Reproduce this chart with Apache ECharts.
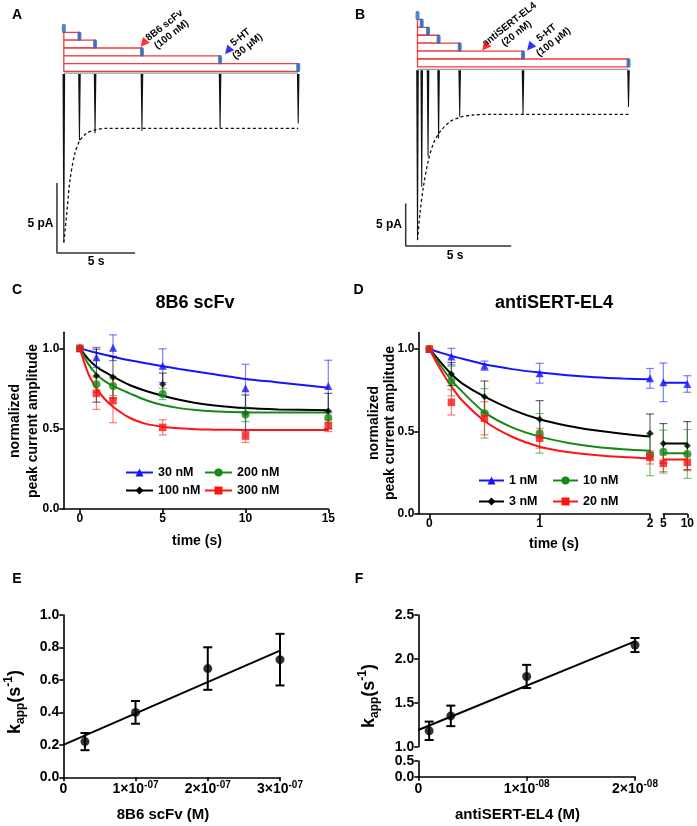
<!DOCTYPE html>
<html>
<head>
<meta charset="utf-8">
<title>SERT antibody block kinetics</title>
<script src="https://cdn.jsdelivr.net/npm/echarts@6/dist/echarts.min.js"></script>
<style>
  html, body { margin: 0; padding: 0; background: #fff; }
  #main { width: 697px; height: 826px; }
</style>
</head>
<body>
<div id="main"></div>
<script>
var FONT = '"Liberation Sans", Arial, sans-serif';

// ---- A: 8B6 scFv (100 nM) preincubation, 5-HT 30 uM ----
var timesA = [0, 1, 2, 5, 10, 15];                 // s
var peaksA = [12.1, 4.8, 4.3, 4.15, 3.95, 3.6];    // pA, inward
var fitTimeA = [0, 0.19, 0.4, 0.72, 1.04, 1.47, 2.0, 2.74, 15];
var fitCurA = [12.1, 10.0, 7.6, 5.7, 4.8, 4.3, 4.07, 3.95, 3.95];
var arrowsA = [[5.1, 1.9], [10.5, 2.85]];           // antibody, 5-HT (s, row)

// ---- B: antiSERT-EL4 (20 nM), 5-HT 100 uM ----
var timesB = [0, 0.2, 0.5, 1, 2, 5, 10];
var peaksB = [20.0, 13.75, 10.2, 8.1, 5.55, 5.35, 4.4];
var fitTimeB = [0, 0.12, 0.28, 0.52, 0.76, 1.07, 1.54, 2.01, 2.65, 3.6, 10];
var fitCurB = [20.0, 16.8, 13.75, 10.6, 8.66, 7.3, 6.14, 5.62, 5.35, 5.27, 5.27];
var arrowsB = [[3.2, 4.0], [5.33, 4.0]];

// ---- C: 8B6 scFv, normalized peak current ----
var timeC = [0, 1, 2, 5, 10, 15];
var namesC = ['30 nM', '100 nM', '200 nM', '300 nM'];
var meanC30 = [1.0, 0.944, 1.004, 0.892, 0.751, 0.766];
var semC30 = [0, 0.062, 0.08, 0.105, 0.15, 0.16];
var meanC100 = [1.0, 0.83, 0.82, 0.776, 0.595, 0.61];
var semC100 = [0, 0.165, 0.13, 0.07, 0.115, 0.11];
var meanC200 = [1.0, 0.776, 0.766, 0.716, 0.589, 0.568];
var semC200 = [0, 0.05, 0.06, 0.035, 0.045, 0.03];
var meanC300 = [1.0, 0.72, 0.674, 0.508, 0.454, 0.519];
var semC300 = [0, 0.1, 0.137, 0.047, 0.04, 0.037];
var fitTimeC = [0, 0.5, 1, 1.5, 2, 3, 4, 5, 6, 7, 8, 10, 12, 15];
var fitC30 = [1.0, 0.986, 0.973, 0.960, 0.948, 0.926, 0.907, 0.889, 0.872, 0.856, 0.841, 0.81, 0.788, 0.755];
var fitC100 = [1.0, 0.935, 0.886, 0.853, 0.824, 0.772, 0.735, 0.705, 0.68, 0.66, 0.646, 0.628, 0.62, 0.614];
var fitC200 = [1.0, 0.905, 0.838, 0.796, 0.766, 0.72, 0.677, 0.647, 0.628, 0.616, 0.609, 0.602, 0.6, 0.6];
var fitC300 = [1.0, 0.845, 0.751, 0.685, 0.637, 0.568, 0.53, 0.512, 0.502, 0.496, 0.494, 0.492, 0.492, 0.492];
var ticksCx = [0, 5, 10, 15];
var ticksNorm = [0, 0.5, 1.0];

// ---- D: antiSERT-EL4, broken time axis ----
var timeD = [0, 0.2, 0.5, 1, 2];
var timeD2 = [5, 10];
var namesD = ['1 nM', '3 nM', '10 nM', '20 nM'];
var meanD1 = [1.0, 0.954, 0.899, 0.853, 0.822], meanD1b = [0.798, 0.788];
var semD1 = [0, 0.05, 0.028, 0.06, 0.06], semD1b = [0.117, 0.05];
var meanD3 = [1.0, 0.848, 0.711, 0.574, 0.489], meanD3b = [0.428, 0.414];
var semD3 = [0, 0.07, 0.095, 0.113, 0.117], semD3b = [0.12, 0.146];
var meanD10 = [1.0, 0.806, 0.61, 0.489, 0.358], meanD10b = [0.378, 0.364];
var semD10 = [0, 0.09, 0.15, 0.12, 0.126], semD10b = [0.13, 0.148];
var meanD20 = [1.0, 0.677, 0.58, 0.459, 0.343], meanD20b = [0.307, 0.313];
var semD20 = [0, 0.077, 0.1, 0.06, 0.04], semD20b = [0.05, 0.05];
var fitTimeD = [0, 0.1, 0.2, 0.3, 0.5, 0.75, 1, 1.25, 1.5, 1.75, 2];
var fitD1 = [1.0, 0.978, 0.958, 0.941, 0.907, 0.878, 0.857, 0.841, 0.829, 0.821, 0.816], plateauD1 = 0.796;
var fitD3 = [1.0, 0.922, 0.848, 0.79, 0.711, 0.633, 0.574, 0.535, 0.507, 0.486, 0.469], plateauD3 = 0.428;
var fitD10 = [1.0, 0.9, 0.812, 0.74, 0.616, 0.525, 0.469, 0.432, 0.408, 0.393, 0.384], plateauD10 = 0.368;
var fitD20 = [1.0, 0.877, 0.772, 0.686, 0.564, 0.468, 0.408, 0.376, 0.358, 0.345, 0.337], plateauD20 = 0.331;
var ticksDx = [0, 1, 2];

// ---- E: kapp vs 8B6 scFv ----
var concE = [3e-8, 1e-7, 2e-7, 3e-7];
var kappE = [0.22, 0.40, 0.67, 0.725];
var semE = [0.053, 0.07, 0.131, 0.159];
var fitXE = [0, 3e-7], fitYE = [0.2, 0.78];
var ticksEx = [0, 1e-7, 2e-7, 3e-7], expE = '-07';
var ticksEy = [0, 0.2, 0.4, 0.6, 0.8, 1.0];

// ---- F: kapp vs antiSERT-EL4 ----
var concF = [1e-9, 3e-9, 1e-8, 2e-8];
var kappF = [1.181, 1.351, 1.80, 2.158];
var semF = [0.105, 0.117, 0.132, 0.08];
var fitXF = [0, 2e-8], fitYF = [1.19, 2.2];
var ticksFx = [0, 1e-8, 2e-8], expF = '-08';
var ticksFy = [1.0, 1.5, 2.0, 2.5], ticksFyLow = [0, 0.5];

var BLUE = '#1414ff', GREEN = '#168a16', RED = '#ff1414', BLACK = '#000';

function zip(xs, ys) { return xs.map(function (x, i) { return [x, ys[i]]; }); }

// grids: 0 A-protocol, 1 A-trace, 2 B-protocol, 3 B-trace, 4 C, 5 D, 6 D(5-10 s), 7 E, 8 F-upper, 9 F-lower
var grids = [
  {left: 48.2, top: 24.6, width: 250, height: 46.8},
  {left: 48.2, top: 73, width: 250, height: 196},
  {left: 396.4, top: 11.5, width: 232.1, height: 55.4},
  {left: 396.4, top: 69.3, width: 232.1, height: 187.9},
  {left: 63.3, top: 332.3, width: 265, height: 176.7},
  {left: 418.3, top: 332.5, width: 231.7, height: 181.5},
  {left: 663.3, top: 332.5, width: 25, height: 181.5},
  {left: 63.3, top: 615, width: 216.7, height: 162.3},
  {left: 418.3, top: 615, width: 216.7, height: 131.7},
  {left: 418.3, top: 761, width: 216.7, height: 15.7}
];

function hidden(g, min, max, inv) {
  return {gridIndex: g, type: 'value', min: min, max: max, inverse: !!inv, show: false};
}
function axis(g, min, max, ticks, fmt, size, rich) {
  return {
    gridIndex: g, type: 'value', min: min, max: max,
    axisLine: {show: true, onZero: false, lineStyle: {color: '#000', width: 1.6}},
    axisTick: {show: true, length: 4, customValues: ticks, lineStyle: {color: '#000', width: 1.6}},
    axisLabel: {show: true, customValues: ticks, formatter: fmt, margin: 4, color: '#000',
      fontFamily: FONT, fontWeight: 'bold', fontSize: size, rich: rich},
    splitLine: {show: false}
  };
}
function fix1(v) { return v.toFixed(1); }
function sciFmt(step, exp) {
  return function (v) {
    if (v === 0) return '{b|0}';
    return '{b|' + Math.round(v / step) + '×10}{s|' + exp + '}';
  };
}
var sciRich = {
  b: {fontFamily: FONT, fontWeight: 'bold', fontSize: 14, color: '#000', lineHeight: 18},
  s: {fontFamily: FONT, fontWeight: 'bold', fontSize: 10, color: '#000', verticalAlign: 'top', lineHeight: 18}
};

var xAxes = [
  hidden(0, -1, 15), hidden(1, -1, 15), hidden(2, -1, 10), hidden(3, -1, 10),
  axis(4, -1, 15, ticksCx, function (v) { return String(v); }, 12),
  axis(5, -0.1, 2, ticksDx, function (v) { return String(v); }, 12),
  axis(6, 5, 10, timeD2, function (v) { return String(v); }, 12),
  axis(7, 0, 3e-7, ticksEx, sciFmt(1e-7, expE), 14, sciRich),
  hidden(8, 0, 2e-8),
  axis(9, 0, 2e-8, ticksFx, sciFmt(1e-8, expF), 14, sciRich)
];
xAxes[7].axisLabel.margin = 3;
xAxes[9].axisLabel.margin = 3;
var yAxes = [
  hidden(0, -0.5, 5.5, true), hidden(1, 0, 14, true), hidden(2, -0.5, 6.5, true), hidden(3, 0, 22, true),
  axis(4, 0, 1.1, ticksNorm, fix1, 12),
  axis(5, 0, 1.1, ticksNorm, fix1, 12),
  hidden(6, 0, 1.1),
  axis(7, 0, 1.0, ticksEy, fix1, 14),
  axis(8, 1.0, 2.5, ticksFy, fix1, 14),
  axis(9, 0, 0.5, ticksFyLow, fix1, 14)
];

var series = [];

function protocol(g, times, arrows) {
  series.push({
    type: 'custom', xAxisIndex: g, yAxisIndex: g, silent: true, z: 2,
    data: times.slice(1).map(function (t, i) { return [times[0], t, i + 1]; }),
    renderItem: function (p, api) {
      var a = api.coord([api.value(0), api.value(2) - 0.5]);
      var b = api.coord([api.value(1), api.value(2) + 0.5]);
      return {type: 'rect', shape: {x: a[0], y: a[1], width: b[0] - a[0], height: b[1] - a[1]},
        style: {fill: '#fff', stroke: '#f23b3b', lineWidth: 1.3}};
    }
  });
  series.push({type: 'scatter', xAxisIndex: g, yAxisIndex: g, silent: true, z: 3,
    symbol: 'roundRect', symbolSize: [4, 9], itemStyle: {color: '#1b6dc1'},
    data: times.map(function (t, i) { return [t, i]; })});
  series.push({type: 'scatter', xAxisIndex: g, yAxisIndex: g, silent: true, z: 3,
    symbol: 'triangle', symbolSize: 9, symbolRotate: 140,
    data: [{value: arrows[0], itemStyle: {color: '#f00'}}, {value: arrows[1], itemStyle: {color: '#0000f0'}}]});
}

function traces(g, times, peaks, fitT, fitI, bar) {
  series.push({type: 'line', xAxisIndex: g, yAxisIndex: g, silent: true, z: 1, symbol: 'none',
    lineStyle: {color: '#999', width: 1.5}, data: [[times[0], 0], [times[times.length - 1], 0]]});
  series.push({
    type: 'custom', xAxisIndex: g, yAxisIndex: g, silent: true, z: 2,
    data: zip(times, peaks),
    renderItem: function (p, api) {
      var b = api.coord([api.value(0), 0]);
      var t = api.coord([api.value(0), api.value(1)]);
      return {type: 'polygon', shape: {points: [[b[0] - 1.3, b[1] + 1], [b[0] + 1.3, b[1] + 1], [t[0] + 0.5, t[1]], [t[0] - 0.5, t[1]]]},
        style: {fill: '#111'}};
    }
  });
  series.push({type: 'line', xAxisIndex: g, yAxisIndex: g, silent: true, z: 3, symbol: 'none', smooth: 0.3,
    lineStyle: {color: '#111', width: 1.3, type: [3, 2.5]}, data: zip(fitT, fitI)});
  // 5 s / 5 pA scale bar
  series.push({type: 'line', xAxisIndex: g, yAxisIndex: g, silent: true, z: 2, symbol: 'none',
    lineStyle: {color: '#333', width: 1.5},
    data: [[bar[0], bar[1]], [bar[0], bar[1] + 5], [bar[0] + 5, bar[1] + 5]]});
}

function errBars(g, xs, ys, es, color, cap, w) {
  series.push({
    type: 'custom', xAxisIndex: g, yAxisIndex: g, silent: true, z: 3,
    data: xs.map(function (x, i) { return [x, ys[i], es[i]]; }),
    renderItem: function (p, api) {
      var x = api.value(0), y = api.value(1), e = api.value(2);
      if (!e) return null;
      var t = api.coord([x, y + e]), b = api.coord([x, y - e]);
      var st = {stroke: color, lineWidth: w};
      return {type: 'group', children: [
        {type: 'line', shape: {x1: t[0], y1: t[1], x2: b[0], y2: b[1]}, style: st},
        {type: 'line', shape: {x1: t[0] - cap, y1: t[1], x2: t[0] + cap, y2: t[1]}, style: st},
        {type: 'line', shape: {x1: b[0] - cap, y1: b[1], x2: b[0] + cap, y2: b[1]}, style: st}
      ]};
    }
  });
}
function points(g, xs, ys, color, symbol, size) {
  series.push({type: 'scatter', xAxisIndex: g, yAxisIndex: g, silent: true, z: 4,
    symbol: symbol, symbolSize: size, itemStyle: {color: color}, data: zip(xs, ys)});
}
function fitLine(g, name, xs, ys, color, symbol, smooth) {
  series.push({type: 'line', name: name, xAxisIndex: g, yAxisIndex: g, silent: true, z: 2,
    symbol: symbol, symbolSize: 8, showSymbol: false, smooth: smooth,
    itemStyle: {color: color}, lineStyle: {color: color, width: 2}, data: zip(xs, ys)});
}

protocol(0, timesA, arrowsA);
traces(1, timesA, peaksA, fitTimeA, fitCurA, [-0.44, 7.86]);
protocol(2, timesB, arrowsB);
traces(3, timesB, peaksB, fitTimeB, fitCurB, [-0.56, 15.7]);

// C
var setC = [
  [namesC[0], meanC30, semC30, fitC30, BLUE, 'rgba(20,20,255,0.55)', 'triangle', 8],
  [namesC[1], meanC100, semC100, fitC100, BLACK, 'rgba(0,0,0,0.6)', 'diamond', 7],
  [namesC[2], meanC200, semC200, fitC200, GREEN, 'rgba(22,138,22,0.55)', 'circle', 8],
  [namesC[3], meanC300, semC300, fitC300, RED, 'rgba(255,20,20,0.55)', 'rect', 7.5]
];
setC.forEach(function (s) {
  fitLine(4, s[0], fitTimeC, s[3], s[4], s[6], 0.3);
});
setC.forEach(function (s) {
  errBars(4, timeC, s[1], s[2], s[5], 4, 1.2);
  points(4, timeC, s[1], s[4], s[6], s[7]);
});

// D
var setD = [
  [namesD[0], meanD1, semD1, meanD1b, semD1b, fitD1, plateauD1, BLUE, 'rgba(20,20,255,0.55)', 'triangle', 8],
  [namesD[1], meanD3, semD3, meanD3b, semD3b, fitD3, plateauD3, BLACK, 'rgba(0,0,0,0.6)', 'diamond', 7],
  [namesD[2], meanD10, semD10, meanD10b, semD10b, fitD10, plateauD10, GREEN, 'rgba(22,138,22,0.55)', 'circle', 8],
  [namesD[3], meanD20, semD20, meanD20b, semD20b, fitD20, plateauD20, RED, 'rgba(255,20,20,0.55)', 'rect', 7.5]
];
setD.forEach(function (s) {
  fitLine(5, s[0], fitTimeD, s[5], s[7], s[9], 0.3);
  fitLine(6, null, timeD2, timeD2.map(function () { return s[6]; }), s[7], s[9], false);
});
setD.forEach(function (s) {
  errBars(5, timeD, s[1], s[2], s[8], 4, 1.2);
  points(5, timeD, s[1], s[7], s[9], s[10]);
  errBars(6, timeD2, s[3], s[4], s[8], 4, 1.2);
  points(6, timeD2, s[3], s[7], s[9], s[10]);
});

// E
fitLine(7, null, fitXE, fitYE, BLACK, 'none', false);
errBars(7, concE, kappE, semE, BLACK, 4.5, 2);
points(7, concE, kappE, BLACK, 'circle', 9);
// F
fitLine(8, null, fitXF, fitYF, BLACK, 'none', false);
errBars(8, concF, kappF, semF, BLACK, 4.5, 2);
points(8, concF, kappF, BLACK, 'circle', 9);

function legendItem(name, left, top, w) {
  return {data: [name], left: left, top: top, itemWidth: w, itemHeight: 10, padding: 0, selectedMode: false,
    textStyle: {fontFamily: FONT, fontWeight: 'bold', fontSize: 12.5, color: '#000'}};
}

function txt(x, y, s, size, opt) {
  opt = opt || {};
  return {type: 'text', x: x, y: y, rotation: opt.rot || 0, silent: true,
    style: {text: s, fill: '#000', fontFamily: FONT, fontWeight: 'bold', fontSize: size,
      align: opt.align || 'center', verticalAlign: 'middle', lineHeight: opt.lh, rich: opt.rich}};
}
var R90 = Math.PI / 2, RA = 38 * Math.PI / 180;
var kRich = {
  k: {fontFamily: FONT, fontWeight: 'bold', fontSize: 18, fill: '#000', lineHeight: 24},
  sub: {fontFamily: FONT, fontWeight: 'bold', fontSize: 12, fill: '#000', verticalAlign: 'bottom', lineHeight: 24},
  sup: {fontFamily: FONT, fontWeight: 'bold', fontSize: 12, fill: '#000', verticalAlign: 'top', lineHeight: 24}
};
var kLabel = '{k|k}{sub|app}{k|(s}{sup|-1}{k|)}';

var graphics = [
  txt(17, 15, 'A', 14), txt(360, 15, 'B', 14), txt(17, 290, 'C', 14),
  txt(358.5, 290, 'D', 14), txt(17, 579, 'E', 14), txt(359, 579, 'F', 14),
  txt(168, 30, '8B6 scFv\n(100 nM)', 10, {rot: RA, lh: 11.5}),
  txt(244, 42, '5-HT\n(30 μM)', 10, {rot: RA, lh: 11.5}),
  txt(513, 29, 'antiSERT-EL4\n(20 nM)', 10, {rot: RA, lh: 11.5}),
  txt(550, 37.5, '5-HT\n(100 μM)', 10, {rot: RA, lh: 11.5}),
  txt(53.5, 224, '5 pA', 12, {align: 'right'}), txt(96, 262, '5 s', 12),
  txt(402, 225, '5 pA', 12, {align: 'right'}), txt(455, 256, '5 s', 12),
  txt(195, 303, '8B6 scFv', 18), txt(554, 303, 'antiSERT-EL4', 18),
  txt(24.5, 421, 'normalized\npeak current amplitude', 14, {rot: R90, lh: 18}),
  txt(382, 423, 'normalized\npeak current amplitude', 14, {rot: R90, lh: 15.5}),
  txt(197, 541, 'time (s)', 14), txt(554, 544, 'time (s)', 14),
  txt(163, 815, '8B6 scFv (M)', 15), txt(517.5, 815, 'antiSERT-EL4 (M)', 15),
  txt(15, 702, kLabel, 18, {rot: R90, rich: kRich}),
  txt(369, 696, kLabel, 18, {rot: R90, rich: kRich})
];

var chart = echarts.init(document.getElementById('main'));
chart.setOption({
  animation: false,
  backgroundColor: '#fff',
  textStyle: {fontFamily: FONT},
  grid: grids,
  xAxis: xAxes,
  yAxis: yAxes,
  legend: [
    legendItem(namesC[0], 125, 466, 27), legendItem(namesC[2], 204, 466, 27),
    legendItem(namesC[1], 125, 484, 27), legendItem(namesC[3], 204, 484, 27),
    legendItem(namesD[0], 478, 474, 25), legendItem(namesD[2], 552, 474, 25),
    legendItem(namesD[1], 478, 495, 25), legendItem(namesD[3], 552, 495, 25)
  ],
  series: series,
  graphic: graphics
});
</script>
</body>
</html>
